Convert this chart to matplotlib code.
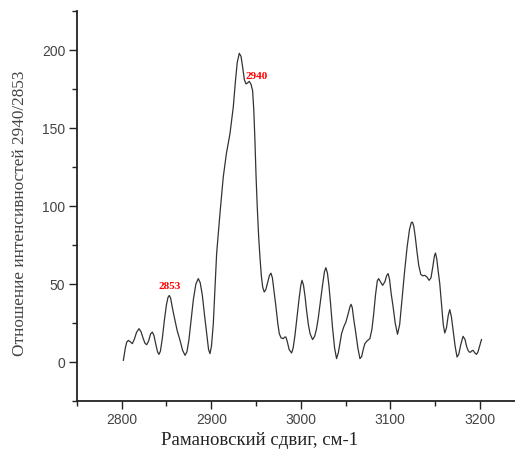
import matplotlib
matplotlib.use("Agg")
from matplotlib import pyplot as plt
from matplotlib.ticker import MultipleLocator

# Raman shift (cm-1) and intensity ratio
shift = [2801.8, 2804.0, 2805.6, 2807.4, 2809.5, 2811.8, 2814.0, 2816.5,
         2819.3, 2821.5, 2824.0, 2826.0, 2827.9, 2830.0, 2832.2, 2834.2,
         2836.0, 2838.0, 2840.0, 2841.6, 2843.2, 2845.3, 2847.6, 2850.0,
         2851.7, 2853.1, 2854.6, 2856.5, 2858.7, 2862.0, 2865.1, 2868.0,
         2870.7, 2872.8, 2875.0, 2877.4, 2880.0, 2882.8, 2885.5, 2887.6,
         2890.0, 2892.5, 2894.9, 2897.0, 2898.6, 2900.2, 2902.3, 2906.0,
         2909.7, 2913.4, 2917.0, 2920.9, 2924.6, 2927.0, 2929.0, 2931.3,
         2933.3, 2935.1, 2937.0, 2938.8, 2940.5, 2942.5, 2944.5, 2946.2,
         2947.5, 2948.8, 2950.0, 2951.4, 2953.0, 2954.4, 2956.0, 2957.5,
         2959.2, 2961.0, 2963.0, 2965.0, 2966.7, 2968.3, 2970.0, 2972.3,
         2974.3, 2976.0, 2978.0, 2980.4, 2982.0, 2983.4, 2985.0, 2987.0,
         2989.8, 2991.5, 2993.5, 2995.4, 2998.0, 3000.0, 3001.4, 3003.0,
         3004.8, 3006.5, 3008.5, 3010.5, 3013.2, 3015.5, 3017.5, 3019.5,
         3022.0, 3024.5, 3026.5, 3028.1, 3029.8, 3031.5, 3033.3, 3035.5,
         3037.8, 3040.0, 3042.0, 3044.0, 3045.6, 3048.0, 3050.4, 3053.0,
         3055.0, 3056.2, 3057.5, 3059.3, 3061.6, 3063.8, 3066.1, 3068.0,
         3070.0, 3071.6, 3074.0, 3077.2, 3079.5, 3081.5, 3083.5, 3085.5,
         3087.0, 3089.0, 3091.5, 3094.0, 3096.0, 3097.6, 3099.2, 3101.0,
         3103.2, 3105.5, 3108.1, 3110.5, 3113.3, 3116.0, 3118.8, 3121.5,
         3123.5, 3124.8, 3126.3, 3128.0, 3129.8, 3131.8, 3134.1, 3136.3,
         3138.6, 3141.0, 3143.4, 3145.5, 3147.5, 3149.3, 3150.5, 3152.0,
         3153.6, 3155.3, 3157.3, 3159.2, 3160.9, 3162.8, 3164.8, 3166.5,
         3168.3, 3170.2, 3172.5, 3174.6, 3176.5, 3178.7, 3181.3, 3183.5,
         3185.3, 3186.9, 3188.5, 3189.9, 3191.2, 3192.5, 3194.3, 3196.3,
         3198.0, 3200.0, 3201.9]
ratio = [1.1, 9.0, 12.8, 13.9, 13.0, 11.8, 14.5, 19.0,
         21.4, 19.5, 15.0, 12.0, 11.1, 13.5, 18.0, 19.2,
         17.0, 11.5, 6.5, 4.9, 7.0, 15.0, 26.7, 37.0,
         41.5, 42.7, 41.0, 35.0, 28.8, 20.0, 13.9, 7.5,
         4.3, 6.5, 14.0, 26.7, 40.0, 50.0, 53.5, 51.0,
         43.0, 30.0, 18.2, 8.0, 5.4, 10.0, 24.6, 69.5,
         95.0, 118.6, 134.0, 146.4, 163.5, 180.0, 192.0, 198.0,
         196.0, 189.0, 181.0, 178.4, 179.0, 180.0, 178.0, 174.0,
         162.0, 142.0, 120.0, 99.4, 80.0, 67.3, 55.0, 48.0,
         44.9, 46.5, 51.0, 55.5, 57.0, 54.0, 46.0, 35.3,
         25.0, 18.2, 15.5, 15.0, 16.0, 16.0, 13.0, 8.0,
         5.8, 9.0, 17.0, 26.7, 40.0, 49.0, 52.4, 49.5,
         42.0, 33.0, 24.0, 18.0, 14.4, 16.5, 21.0, 28.0,
         39.0, 50.0, 58.0, 60.5, 57.0, 49.0, 37.4, 22.0,
         9.0, 2.2, 6.0, 13.0, 18.2, 22.5, 25.6, 31.0,
         35.5, 37.0, 35.0, 27.0, 18.2, 9.0, 2.2, 3.5,
         8.5, 11.8, 13.5, 15.0, 21.0, 31.0, 43.0, 52.0,
         53.5, 51.5, 49.2, 51.5, 55.5, 56.7, 53.0, 44.0,
         35.3, 25.0, 17.8, 24.0, 41.7, 58.0, 73.7, 85.0,
         89.5, 89.7, 87.0, 80.0, 71.0, 62.0, 56.2, 55.3,
         55.6, 54.5, 52.4, 54.0, 61.0, 68.0, 69.9, 66.0,
         58.0, 50.3, 37.0, 24.0, 18.6, 22.0, 30.0, 33.6,
         29.0, 20.3, 10.0, 3.2, 5.0, 11.0, 16.5, 14.5,
         10.0, 7.5, 6.3, 6.4, 7.2, 7.5, 6.0, 4.9,
         6.5, 10.5, 14.4]

xlabel = "Рамановский сдвиг, см-1"
ylabel = "Отношение интенсивностей 2940/2853"
peak_labels = ["2853", "2940"]
peak_pos = [(2854, 48.5), (2951, 183)]

fig = plt.figure(figsize=(5.15, 4.57), dpi=100)
ax = fig.add_axes([0.1495, 0.1225, 0.869, 0.853])

ax.plot(shift, ratio, color="#333333", linewidth=0.9,
        solid_joinstyle="round")

ax.set_xlim(2750, 3250)
ax.set_ylim(-25, 225)
ax.xaxis.set_major_locator(MultipleLocator(100))
ax.xaxis.set_minor_locator(MultipleLocator(50))
ax.yaxis.set_major_locator(MultipleLocator(50))
ax.yaxis.set_minor_locator(MultipleLocator(25))

for side in ("top", "right"):
    ax.spines[side].set_visible(False)
for side in ("left", "bottom"):
    ax.spines[side].set_linewidth(1.3)
    ax.spines[side].set_color("#222222")

ax.tick_params(which="major", length=5.5, width=1.0, color="#222222",
               labelsize=10, labelcolor="#444444", pad=3)
ax.tick_params(which="minor", length=3.5, width=1.0, color="#222222")
for lab in ax.get_xticklabels() + ax.get_yticklabels():
    lab.set_family("Liberation Sans")

ax.set_xlabel(xlabel, family="Liberation Serif", fontsize=13.5,
              color="#222222")
ax.set_ylabel(ylabel, family="Liberation Serif", fontsize=12.4,
              color="#444444")
# the original labels sit off-centre relative to the axis lines
ax.xaxis.set_label_coords(0.409, -0.08)
ax.yaxis.set_label_coords(-0.11, 0.481)

for text, (x, y) in zip(peak_labels, peak_pos):
    ax.text(x, y, text, color="red", fontsize=8, fontweight="bold",
            family="Liberation Serif", ha="center", va="center")

fig.savefig("out.png", dpi=100)
